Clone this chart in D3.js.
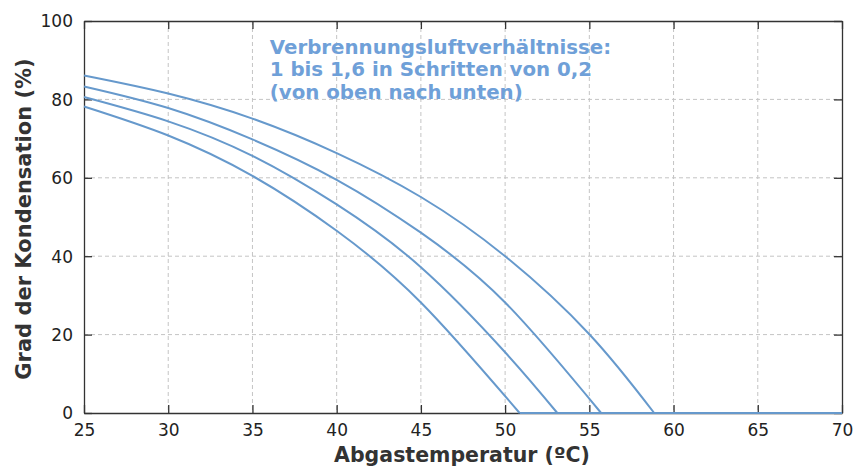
<!DOCTYPE html>
<html>
<head>
<meta charset="utf-8">
<script src="https://cdn.jsdelivr.net/npm/d3@7"></script>
<style>
  body { margin: 0; background: #fff; }
  svg text { font-family: "DejaVu Sans", Verdana, sans-serif; }
</style>
</head>
<body>
<div id="chart"></div>
<script>
// Grad der Kondensation über Abgastemperatur, je Verbrennungsluftverhältnis
const lambdas = [1.0, 1.2, 1.4, 1.6];
const curveL10 = [[25, 86.1], [30, 81.5], [35, 75.1], [40, 66.3], [45, 55.1], [50, 40.0], [55, 20.1], [58.85, 0]];
const curveL12 = [[25, 83.3], [30, 77.8], [35, 69.8], [40, 59.5], [45, 46.0], [50, 28.2], [55.7, 0]];
const curveL14 = [[25, 80.6], [30, 74.4], [35, 65.6], [40, 53.2], [45, 37.2], [50, 15.5], [53.1, 0]];
const curveL16 = [[25, 78.2], [30, 70.8], [35, 60.5], [40, 46.5], [45, 28.2], [50.86, 0]];
const curves = [curveL10, curveL12, curveL14, curveL16];

const xTicks = [25, 30, 35, 40, 45, 50, 55, 60, 65, 70];
const yTicks = [0, 20, 40, 60, 80, 100];
const xLabel = "Abgastemperatur (ºC)";
const yLabel = "Grad der Kondensation (%)";
const note = ["Verbrennungsluftverhältnisse:", "1 bis 1,6 in Schritten von 0,2", "(von oben nach unten)"];

const width = 853, height = 466;
const margin = { top: 21, right: 11, bottom: 53, left: 84 };
const plotWidth = width - margin.left - margin.right;
const plotHeight = height - margin.top - margin.bottom;
const lineColor = "#6699cc";

const svg = d3.select("#chart").append("svg")
    .attr("width", width)
    .attr("height", height);

const plot = svg.append("g")
    .attr("transform", `translate(${margin.left},${margin.top})`);

const x = d3.scaleLinear().domain([25, 70]).range([0, plotWidth]);
const y = d3.scaleLinear().domain([0, 100]).range([plotHeight, 0]);

// grid
plot.append("g").selectAll("line")
    .data(xTicks.slice(1, -1))
    .join("line")
    .attr("x1", d => x(d)).attr("x2", d => x(d))
    .attr("y1", 0).attr("y2", plotHeight)
    .attr("stroke", "#c4c4c4").attr("stroke-dasharray", "4,3");
plot.append("g").selectAll("line")
    .data(yTicks.slice(1, -1))
    .join("line")
    .attr("x1", 0).attr("x2", plotWidth)
    .attr("y1", d => y(d)).attr("y2", d => y(d))
    .attr("stroke", "#c4c4c4").attr("stroke-dasharray", "4,3");

// axes, ticks pointing inward and mirrored
const tickLen = 8;
const xAxis = plot.append("g")
    .attr("transform", `translate(0,${plotHeight})`)
    .call(d3.axisBottom(x).tickValues(xTicks).tickSize(-tickLen).tickPadding(11).tickSizeOuter(0));
const yAxis = plot.append("g")
    .call(d3.axisLeft(y).tickValues(yTicks).tickSize(-tickLen).tickPadding(11).tickSizeOuter(0));
plot.append("g")
    .call(d3.axisTop(x).tickValues(xTicks).tickSize(-tickLen).tickFormat("").tickSizeOuter(0));
plot.append("g")
    .attr("transform", `translate(${plotWidth},0)`)
    .call(d3.axisRight(y).tickValues(yTicks).tickSize(-tickLen).tickFormat("").tickSizeOuter(0));

plot.selectAll(".domain, .tick line").attr("stroke", "#333").attr("stroke-width", 1.3);
plot.selectAll(".tick text")
    .attr("fill", "#222")
    .style("font-family", "'DejaVu Sans', Verdana, sans-serif")
    .style("font-size", "17px");
yAxis.selectAll(".tick text").attr("dy", "0.35em");

// curves
const line = d3.line()
    .x(d => x(d[0]))
    .y(d => y(d[1]))
    .curve(d3.curveNatural);

curves.forEach(c => {
    plot.append("path")
        .datum(c)
        .attr("fill", "none")
        .attr("stroke", lineColor)
        .attr("stroke-width", 2)
        .attr("d", line);
    const end = c[c.length - 1];
    plot.append("path")
        .datum([end, [70, 0]])
        .attr("fill", "none")
        .attr("stroke", lineColor)
        .attr("stroke-width", 2)
        .attr("d", d3.line().x(d => x(d[0])).y(d => y(d[1])));
});

// annotation
const noteText = plot.append("text")
    .attr("x", x(36.03))
    .attr("y", y(91.7))
    .attr("fill", "#6fa0d8")
    .style("font-size", "19.8px")
    .style("font-weight", "bold");
noteText.selectAll("tspan")
    .data(note)
    .join("tspan")
    .attr("x", x(36.03))
    .attr("dy", (d, i) => i === 0 ? 0 : 22.5)
    .text(d => d);

// axis titles
svg.append("text")
    .attr("x", 462)
    .attr("y", 462)
    .attr("text-anchor", "middle")
    .attr("fill", "#333")
    .style("font-size", "20.5px")
    .style("font-weight", "bold")
    .text(xLabel);

svg.append("text")
    .attr("transform", `translate(31,219) rotate(-90)`)
    .attr("text-anchor", "middle")
    .attr("fill", "#333")
    .style("font-size", "21px")
    .style("font-weight", "bold")
    .text(yLabel);
</script>
</body>
</html>
